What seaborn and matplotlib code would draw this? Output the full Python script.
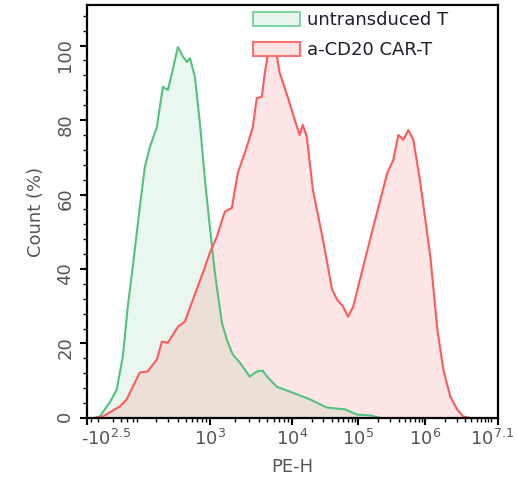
import numpy as np
import pandas as pd
import matplotlib
matplotlib.use('Agg')
import matplotlib.pyplot as plt
import matplotlib.transforms as mtransforms
import seaborn as sns
from matplotlib.patches import Patch
from matplotlib.ticker import FixedLocator, MultipleLocator

# PE-H (a.u.) and normalised count (%)
untransduced_pe = [-141, -82, -15, 12, 32, 51.5, 76, 112, 134, 160,
                   203, 249, 295, 335, 398, 461, 517, 564, 650, 750,
                   867, 1000, 1151, 1401, 1612, 1908, 2322, 3075, 3742, 4430,
                   5100, 6560, 10350, 18740, 33900, 63500, 96500, 151000, 213000]
untransduced_pct = [0, 0.4, 4.2, 7.6, 16.5, 29.9, 40.6, 56.7, 67.4, 72.8,
                    78.1, 88.9, 88.1, 92.6, 99.6, 97.0, 95.6, 96.6, 91.6, 79.2,
                    63.9, 51.3, 39.0, 25.6, 21.0, 17.0, 14.9, 11.1, 12.5, 12.7,
                    10.9, 8.4, 6.8, 5.0, 2.8, 2.3, 0.9, 0.7, 0]

car_pe = [-141, -57, 21.7, 47, 76, 112, 148, 203, 241, 295,
          398, 487, 614, 818, 1000, 1217, 1524, 1854, 2195, 2826,
          3345, 3742, 4310, 4690, 5100, 5700, 6380, 7140, 8940, 11100,
          13200, 14700, 16900, 20800, 29500, 40400, 48100, 59300, 70500, 84000,
          118700, 167500, 271000, 333000, 395000, 470000, 557000, 662000, 842000, 1.19e6,
          1.52e6, 1.87e6, 2.38e6, 3.03e6, 3.74e6, 4.77e6]
car_pct = [0, 0.4, 3.1, 5.0, 8.4, 12.2, 12.5, 15.7, 20.5, 20.2,
           24.5, 25.9, 31.8, 39.0, 44.4, 48.7, 55.4, 56.4, 65.8, 72.8,
           78.1, 85.9, 86.2, 92.6, 97.5, 100, 98.8, 92.6, 86.2, 80.0,
           76.0, 78.7, 75.4, 61.3, 47.9, 34.5, 31.8, 29.9, 27.2, 29.9,
           40.6, 51.3, 65.8, 69.3, 76.0, 74.7, 77.3, 74.7, 63.1, 43.3,
           23.7, 13.0, 5.8, 2.3, 0.4, 0]

sample_names = ['untransduced T', 'a-CD20 CAR-T']
line_colors = {'untransduced T': '#52c27f', 'a-CD20 CAR-T': '#ff5a5a'}
fill_colors = {'untransduced T': '#4cbf7c', 'a-CD20 CAR-T': '#ff5a5a'}

x_tick_vals = [-10**2.5, 1e3, 1e4, 1e5, 1e6, 10**7.1]
x_tick_labels = [r'-$10^{2.5}$', r'$10^{3}$', r'$10^{4}$', r'$10^{5}$',
                 r'$10^{6}$', r'$10^{7.1}$']

# biexponential-like display scale (anchor values -> display decades)
SCALE_VALS = [-10**2.5, 0, 100, 10**2.5, 1e3, 1e4, 1e5, 1e6, 10**7.1]
SCALE_POS = [0, 0.39, 0.75, 1.25, 1.85, 3.08, 4.08, 5.09, 6.18]
SCALE_U = np.arcsinh(np.array(SCALE_VALS) / 50.0)


def _lin(x, xp, fp):
    x = np.asarray(x, dtype=float)
    y = np.interp(x, xp, fp)
    y = np.where(x < xp[0], fp[0] + (x - xp[0]) * (fp[1] - fp[0]) / (xp[1] - xp[0]), y)
    y = np.where(x > xp[-1], fp[-1] + (x - xp[-1]) * (fp[-1] - fp[-2]) / (xp[-1] - xp[-2]), y)
    return y


def biex_forward(x):
    return _lin(np.arcsinh(np.asarray(x, dtype=float) / 50.0), SCALE_U, SCALE_POS)


def biex_inverse(y):
    return 50.0 * np.sinh(_lin(y, SCALE_POS, SCALE_U))


df = pd.concat([
    pd.DataFrame({'PE-H': untransduced_pe, 'Count (%)': untransduced_pct,
                  'sample': sample_names[0]}),
    pd.DataFrame({'PE-H': car_pe, 'Count (%)': car_pct, 'sample': sample_names[1]}),
])

sns.set_style('ticks')
plt.rcParams['font.family'] = ['DejaVu Sans']

fig = plt.figure(figsize=(5.17, 4.97), dpi=100)
ax = fig.add_axes([0.168, 0.159, 0.795, 0.831])
ax.set_xscale('function', functions=(biex_forward, biex_inverse))

# fills first, then outlines on top
for name, alpha in zip(sample_names, [0.12, 0.15]):
    sub = df[df['sample'] == name]
    ax.fill_between(sub['PE-H'], sub['Count (%)'], 0, color=fill_colors[name],
                    alpha=alpha, lw=0)

sns.lineplot(data=df, x='PE-H', y='Count (%)', hue='sample', palette=line_colors,
             estimator=None, sort=False, lw=1.5, legend=False, ax=ax)

ax.set_xlim(-10**2.5, 10**7.1)
ax.set_ylim(0, 110.9)

ax.xaxis.set_major_locator(FixedLocator(x_tick_vals))
ax.set_xticklabels(x_tick_labels)
minor_x = [-200, -100, 0, 25, 50, 75] + list(range(100, 1000, 100))
for d in [1e3, 1e4, 1e5, 1e6]:
    minor_x += [k * d for k in range(2, 10)]
minor_x += [1e7]
ax.xaxis.set_minor_locator(FixedLocator(minor_x))

ax.yaxis.set_major_locator(MultipleLocator(20))
ax.yaxis.set_minor_locator(MultipleLocator(4))

for side in ['left', 'right', 'top', 'bottom']:
    ax.spines[side].set_visible(True)
    ax.spines[side].set_color('black')
    ax.spines[side].set_linewidth(1.6)

ax.tick_params(which='major', length=5, width=1.5, color='black',
               labelsize=13, labelcolor='#555555')
ax.tick_params(which='minor', length=3, width=1.0, color='black')
ax.tick_params(axis='y', labelrotation=90, pad=4)
ax.tick_params(axis='x', pad=3)

# nudge the end labels inwards, as in the reference
xlabels = ax.get_xticklabels()
xlabels[0].set_transform(xlabels[0].get_transform() +
                         mtransforms.ScaledTranslation(0.19, 0, fig.dpi_scale_trans))
xlabels[-1].set_transform(xlabels[-1].get_transform() +
                          mtransforms.ScaledTranslation(-0.06, 0, fig.dpi_scale_trans))

ax.set_xlabel('PE-H', fontsize=13, color='#555555', labelpad=6)
ax.set_ylabel('Count (%)', fontsize=13, color='#555555', labelpad=8)

handles = [Patch(facecolor='#e8f6ee', edgecolor='#7fd3a0', lw=1.5),
           Patch(facecolor='#ffe6e6', edgecolor='#ff7070', lw=1.5)]
leg = ax.legend(handles, sample_names, loc='upper left', bbox_to_anchor=(0.404, 0.985),
                frameon=False, borderpad=0, borderaxespad=0, fontsize=13,
                handlelength=2.6, handleheight=0.8, handletextpad=0.4, labelspacing=0.65)
for t in leg.get_texts():
    t.set_color('#1e1e30')

fig.savefig('out.png', dpi=100, facecolor='white')
